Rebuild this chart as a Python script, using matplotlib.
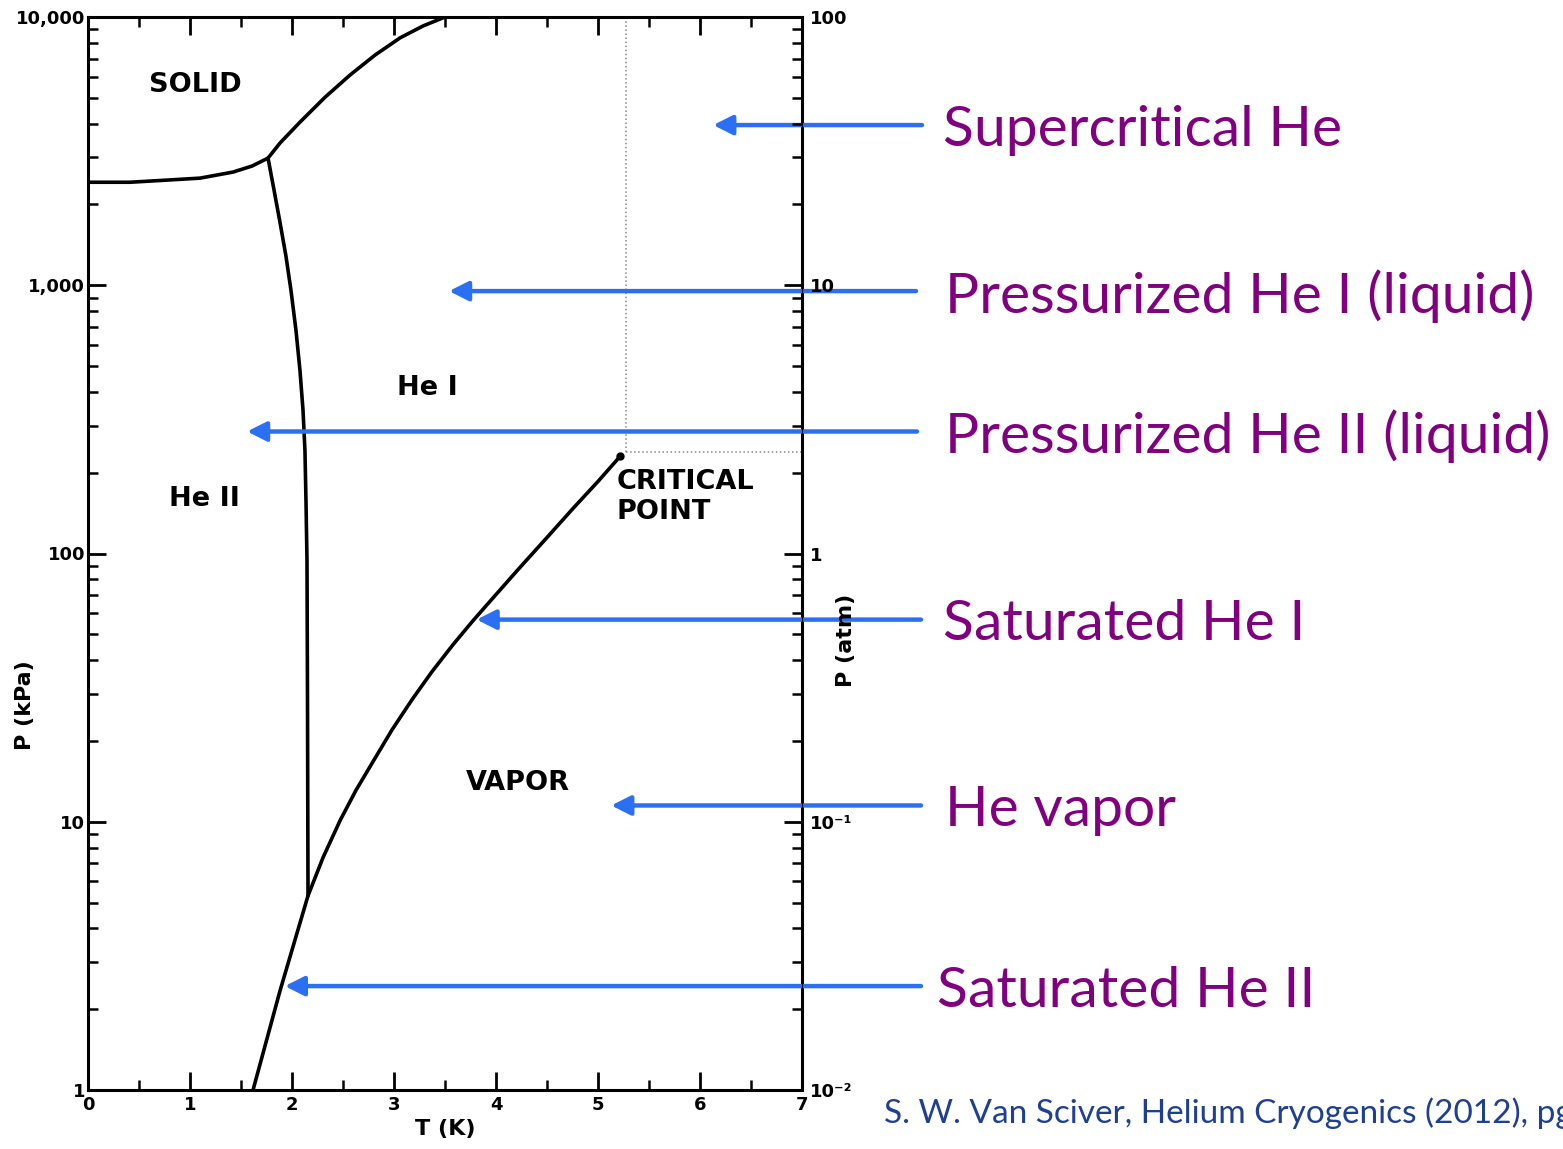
import matplotlib
matplotlib.use("Agg")
import matplotlib.pyplot as plt
import matplotlib.patheffects as pe
from matplotlib.ticker import FixedLocator, NullFormatter, FixedFormatter
from matplotlib.transforms import blended_transform_factory

# saturated vapour pressure curve (T in K, P in kPa)
svp_T = [1.618, 1.882, 2.157, 2.304, 2.471, 2.627, 2.804, 2.980, 3.176, 3.373, 3.578,
         3.775, 4.000, 4.216, 4.500, 4.755, 5.000, 5.216]
svp_P = [1.0, 2.34, 5.30, 7.35, 10.1, 13.1, 17.0, 22.0, 28.5, 36.3, 45.7,
         56.2, 70.3, 87.1, 114.7, 147.2, 185.6, 230.0]

# lambda line
lambda_T = [1.765, 1.824, 1.882, 1.941, 1.990, 2.039, 2.078, 2.108, 2.127, 2.137, 2.147, 2.152, 2.157]
lambda_P = [2978, 2262, 1718, 1282, 957, 679, 482, 342, 242, 158, 94.1, 28.3, 5.3]

# melting curve, He II side and He I side
melt2_T = [0.0, 0.412, 0.775, 1.098, 1.422, 1.608, 1.765]
melt2_P = [2421, 2421, 2466, 2508, 2642, 2782, 2978]
melt1_T = [1.765, 1.882, 2.078, 2.324, 2.569, 2.814, 3.059, 3.284, 3.500]
melt1_P = [2978, 3388, 4055, 5023, 6077, 7212, 8357, 9256, 10000]

crit_T, crit_P = 5.216, 230.0
crit_guide_T, crit_guide_P = 5.27, 238.0

region_text = ["SOLID", "He I", "He II", "CRITICAL\nPOINT", "VAPOR"]
region_T = [1.05, 3.33, 1.14, 5.18, 4.21]
region_P = [5570, 413, 160, 162, 13.9]

annot_text = ["Supercritical He", "Pressurized He I (liquid)", "Pressurized He II (liquid)",
              "Saturated He I", "He vapor", "Saturated He II"]
annot_tip_T = [6.13, 3.54, 1.56, 3.81, 5.13, 1.93]
annot_tip_P = [3955, 951, 285, 56.7, 11.5, 2.44]
annot_tail_x = [922, 916, 917, 921, 921, 921]
annot_text_x = [943, 945, 945, 943, 945, 937]

x_major = [0, 1, 2, 3, 4, 5, 6, 7]
x_minor = [0.5, 1.5, 2.5, 3.5, 4.5, 5.5, 6.5]
y_major = [1, 10, 100, 1000, 10000]
y_labels = ["1", "10", "100", "1,000", "10,000"]
atm_major = [0.01, 0.1, 1, 10, 100]
atm_labels = ["10⁻²", "10⁻¹", "1", "10", "100"]

W, H = 1563, 1149
purple = "#800080"
blue = "#2B6FF2"
cite_blue = "#1F3F94"

fig = plt.figure(figsize=(W / 100, H / 100), dpi=100)
ax = fig.add_axes([88 / W, 1 - 1090 / H, 714 / W, 1073 / H])

ink = dict(color="black", lw=2.6, solid_capstyle="round", solid_joinstyle="round")
ax.plot(svp_T, svp_P, **ink)
ax.plot(lambda_T, lambda_P, **ink)
ax.plot(melt2_T, melt2_P, **ink)
ax.plot(melt1_T, melt1_P, **ink)
ax.plot([crit_T], [crit_P], "o", color="black", ms=5)
ax.plot([crit_guide_T, crit_guide_T], [crit_guide_P, 10000], ls=":", color="#888888", lw=1.1)
ax.plot([crit_guide_T, 7], [crit_guide_P, crit_guide_P], ls=":", color="#888888", lw=1.1)

ax.set_yscale("log")
ax.set_xlim(0, 7)
ax.set_ylim(1, 10000)

tick_font = dict(fontsize=13, fontweight="bold", family="DejaVu Sans")
ax.xaxis.set_major_locator(FixedLocator(x_major))
ax.xaxis.set_minor_locator(FixedLocator(x_minor))
ax.set_xticklabels([str(v) for v in x_major], **tick_font)
ax.yaxis.set_major_locator(FixedLocator(y_major))
minor_p = [m * d for d in (1, 10, 100, 1000) for m in range(2, 10)]
ax.yaxis.set_minor_locator(FixedLocator(minor_p))
ax.yaxis.set_minor_formatter(NullFormatter())
ax.set_yticklabels(y_labels, **tick_font)
ax.tick_params(which="major", direction="in", length=13, width=2, top=True, right=False, pad=4)
ax.tick_params(which="minor", direction="in", length=7, width=1.8, top=True, right=False)
ax.tick_params(axis="y", which="major", pad=2)
for s in ax.spines.values():
    s.set_linewidth(2.2)

ax2 = ax.twinx()
ax2.set_yscale("log")
ax2.set_ylim(0.01, 100)
ax2.yaxis.set_major_locator(FixedLocator(atm_major))
ax2.yaxis.set_major_formatter(FixedFormatter(atm_labels))
ax2.yaxis.set_minor_locator(FixedLocator([m * d for d in (0.01, 0.1, 1, 10) for m in range(2, 10)]))
ax2.yaxis.set_minor_formatter(NullFormatter())
ax2.tick_params(which="major", direction="in", length=13, width=2, pad=6)
ax2.tick_params(which="minor", direction="in", length=7, width=1.8)
for lbl in ax2.get_yticklabels():
    lbl.set_fontsize(13)
    lbl.set_fontweight("bold")

ax.set_xlabel("T (K)", fontsize=16, fontweight="bold", labelpad=4)
ax.set_ylabel("P (kPa)", fontsize=16, fontweight="bold")
ax.yaxis.set_label_coords(-0.074, 0.359)
ax2.set_ylabel("P (atm)", fontsize=16, fontweight="bold")
ax2.yaxis.set_label_coords(1.047, 0.419)

for txt, t, p in zip(region_text, region_T, region_P):
    ha = "left" if "\n" in txt else "center"
    ax.text(t, p, txt, ha=ha, va="center", fontsize=19.5, fontweight="bold",
            family="DejaVu Sans", linespacing=1.2)

blend = blended_transform_factory(fig.transFigure, ax.transData)
shadow = [pe.withSimplePatchShadow(offset=(1.5, -2), shadow_rgbFace="0.3", alpha=0.35)]
for txt, t, p, tx, lx in zip(annot_text, annot_tip_T, annot_tip_P, annot_tail_x, annot_text_x):
    ax.annotate("", xy=(t, p), xycoords="data", xytext=(tx / W, p), textcoords=blend,
                annotation_clip=False,
                arrowprops=dict(arrowstyle="-|>,head_length=1.15,head_width=0.58",
                                mutation_scale=10, lw=3.2, color=blue,
                                shrinkA=0, shrinkB=0, path_effects=shadow))
    ax.text(lx / W, p, txt, transform=blend, ha="left", va="center_baseline",
            fontsize=41, color=purple, family="Lato", clip_on=False)

fig.text(884 / W, 1 - 1110 / H, "S. W. Van Sciver, Helium Cryogenics (2012), pg",
         ha="left", va="center_baseline", fontsize=24, color=cite_blue, family="Lato")

fig.savefig("out.png", dpi=100)
